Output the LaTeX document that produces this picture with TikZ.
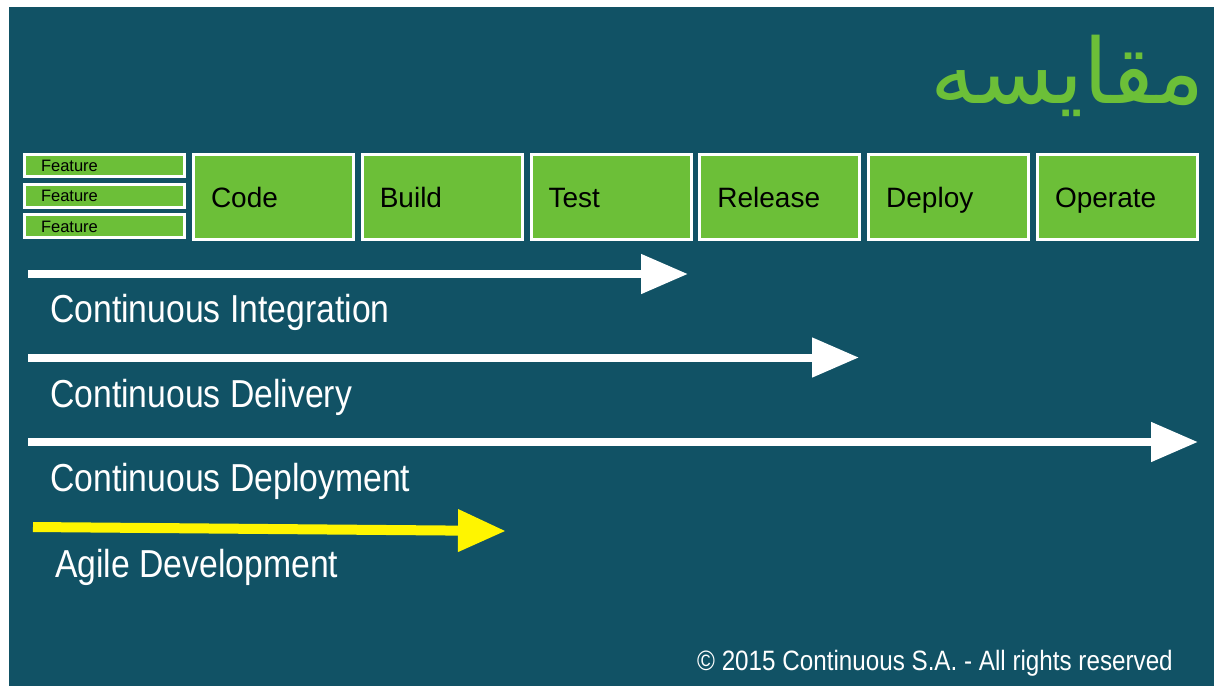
\documentclass[tikz,border=0pt]{standalone}
\usepackage{fontspec}
\setmainfont{Liberation Sans}
\newfontfamily\narrowfont[FakeStretch=0.865]{Liberation Sans}
\newfontfamily\arabicfont[Script=Arabic]{DejaVu Sans}
\TeXXeTstate=1
\usetikzlibrary{arrows.meta}
\definecolor{panelbg}{RGB}{17,82,101}
\definecolor{stagegreen}{RGB}{108,191,56}
\definecolor{agileyellow}{RGB}{255,245,0}
\begin{document}
\begin{tikzpicture}[x=1pt,y=-1pt,
  stage/.style={draw=white, line width=3pt, fill=stagegreen, text=black,
    minimum width=160pt, minimum height=85pt, inner xsep=17.5pt, inner ysep=0pt,
    text width=125pt, align=left, font=\fontsize{28}{28}\selectfont,
    text height=20pt, text depth=0pt},
  feature/.style={draw=white, line width=3pt, fill=stagegreen, text=black,
    minimum width=160pt, minimum height=22.5pt, inner xsep=16.5pt, inner ysep=0pt,
    text width=127pt, align=left, font=\fontsize{16.5}{16.5}\selectfont,
    text height=12pt, text depth=0pt},
  flowlabel/.style={anchor=base west, inner sep=0pt, text=white,
    font=\narrowfont\fontsize{39}{39}\selectfont},
  flow/.style={draw=white, line width=8pt, -{Triangle[length=47pt,width=38pt]}},
  agileflow/.style={draw=agileyellow, line width=10pt, -{Triangle[length=48pt,width=40pt]}}]
\useasboundingbox (0,0) rectangle (1214,686);
\fill[white] (0,0) rectangle (1214,686);
\fill[panelbg] (9,7) rectangle (1214,686);

% title
\node[anchor=base east, inner sep=0pt, text=stagegreen,
  font=\arabicfont\fontsize{90}{90}\selectfont] (title) at (1205,103) {\beginR مقایسه\endR};

% feature stack
\node[feature] (f1) at (104.5,165.5) {Feature};
\node[feature] (f2) at (104.5,195.8) {Feature};
\node[feature] (f3) at (104.5,226.1) {Feature};

% pipeline stages
\node[stage] (code)    at (273.5,197) {Code};
\node[stage] (build)   at (442.3,197) {Build};
\node[stage] (test)    at (611.1,197) {Test};
\node[stage] (release) at (779.9,197) {Release};
\node[stage] (deploy)  at (948.7,197) {Deploy};
\node[stage] (operate) at (1117.5,197) {Operate};

% arrow end points
\coordinate (ciA) at (28,274);   \coordinate (ciB) at (688,274);
\coordinate (cdA) at (28,357.5); \coordinate (cdB) at (859,357.5);
\coordinate (cpA) at (28,442);   \coordinate (cpB) at (1198,442);
\coordinate (agA) at (33,527);   \coordinate (agB) at (506,531);

\draw[flow] (ciA) -- (ciB);
\draw[flow] (cdA) -- (cdB);
\draw[flow] (cpA) -- (cpB);
\draw[agileflow] (agA) -- (agB);

% labels
\node[flowlabel] (ci) at (50,322) {Continuous Integration};
\node[flowlabel] (cd) at (50,407) {Continuous Delivery};
\node[flowlabel] (cp) at (50,491) {Continuous Deployment};
\node[flowlabel] (ag) at (55,577) {Agile Development};

% footer
\node[anchor=base west, inner sep=0pt, text=white,
  font=\narrowfont\fontsize{28}{28}\selectfont] (copy) at (697,670)
  {© 2015 Continuous S.A. - All rights reserved};
\end{tikzpicture}
\end{document}
